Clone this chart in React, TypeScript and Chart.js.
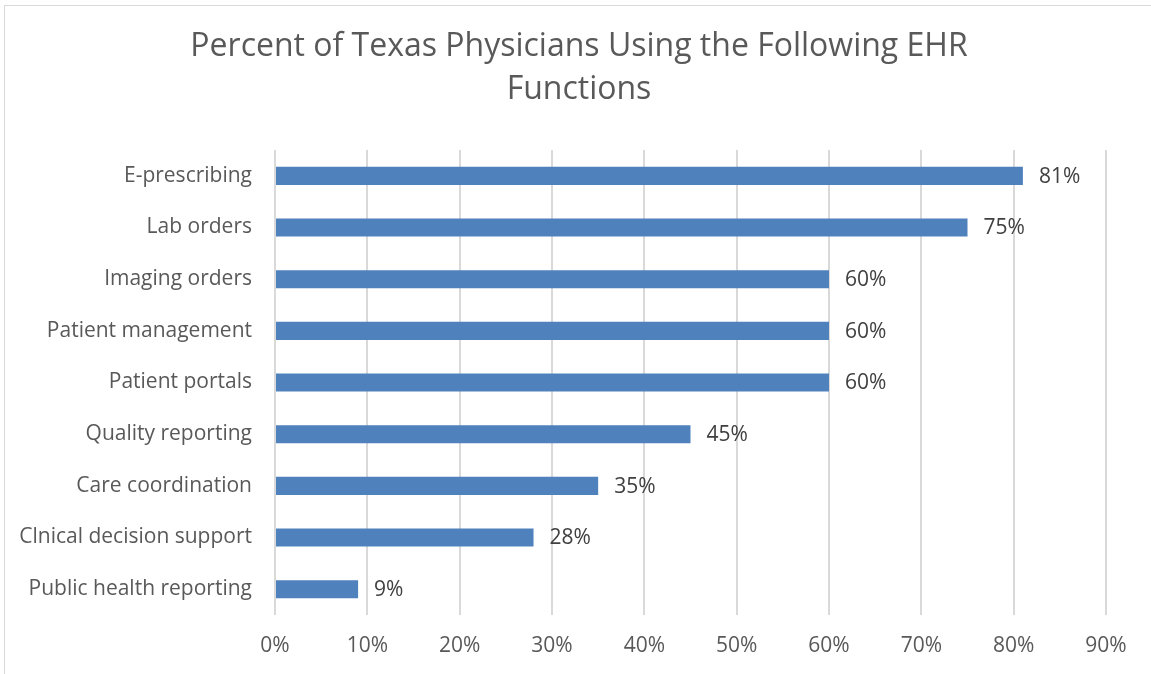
import { useEffect, useRef } from "react";
import { Chart, registerables } from "chart.js";

Chart.register(...registerables);

// EHR functions, top to bottom as listed on the chart
const functions = [
  "E-prescribing",
  "Lab orders",
  "Imaging orders",
  "Patient management",
  "Patient portals",
  "Quality reporting",
  "Care coordination",
  "Clnical decision support",
  "Public health reporting",
];

// Percent of physicians using each function
const percentUsing = [81, 75, 60, 60, 60, 45, 35, 28, 9];

// Horizontal axis range and tick step (percent)
const axisMin = 0;
const axisMax = 90;
const axisStep = 10;

const titleLines = ["Percent of Texas Physicians Using the Following EHR", "Functions"];

const FONT = "'Open Sans', 'DejaVu Sans', sans-serif";
const BAR_BLUE = "#4F81BD";
const GRID_GREY = "#d9d9d9";
const AXIS_TEXT = "#595959";
const LABEL_TEXT = "#404040";

// Two-line title centred over the whole chart frame
const frameTitle = {
  id: "frameTitle",
  afterDraw(chart: any) {
    const { ctx } = chart;
    ctx.save();
    ctx.font = `32px ${FONT}`;
    ctx.fillStyle = AXIS_TEXT;
    ctx.textAlign = "center";
    ctx.textBaseline = "alphabetic";
    titleLines.forEach((line, i) => {
      ctx.fillText(line, 579, 56 + i * 43);
    });
    ctx.restore();
  },
};

// Writes each bar's percentage just past its end
const valueLabels = {
  id: "valueLabels",
  afterDatasetsDraw(chart: any) {
    const { ctx } = chart;
    const meta = chart.getDatasetMeta(0);
    const data = chart.data.datasets[0].data as number[];
    ctx.save();
    ctx.font = `21px ${FONT}`;
    ctx.fillStyle = LABEL_TEXT;
    ctx.textAlign = "left";
    ctx.textBaseline = "middle";
    meta.data.forEach((bar: any, i: number) => {
      ctx.fillText(`${Math.round(data[i])}%`, bar.x + 16, bar.y + 1);
    });
    ctx.restore();
  },
};

function EhrChart() {
  const canvasRef = useRef<HTMLCanvasElement | null>(null);

  useEffect(() => {
    const canvas = canvasRef.current;
    if (!canvas) return;
    const chart = new Chart(canvas, {
      type: "bar",
      data: {
        labels: functions,
        datasets: [
          {
            data: percentUsing,
            backgroundColor: BAR_BLUE,
            borderWidth: 0,
            barPercentage: 0.35,
            categoryPercentage: 1,
          },
        ],
      },
      options: {
        indexAxis: "y",
        animation: false,
        responsive: false,
        devicePixelRatio: 1,
        layout: { padding: { left: 0, right: 45, top: 150, bottom: 0 } },
        plugins: {
          legend: { display: false },
          tooltip: { enabled: false },
          title: { display: false },
        },
        scales: {
          x: {
            min: axisMin,
            max: axisMax,
            afterFit(scale: any) {
              scale.height = 59;
            },
            ticks: {
              stepSize: axisStep,
              color: AXIS_TEXT,
              font: { family: FONT, size: 21 },
              padding: 18,
              callback: (v: any) => `${v}%`,
            },
            grid: { color: GRID_GREY, lineWidth: 2, drawTicks: false },
            border: { display: false },
          },
          y: {
            afterFit(scale: any) {
              scale.width = 275;
            },
            ticks: {
              color: AXIS_TEXT,
              font: { family: FONT, size: 21 },
              padding: 23,
            },
            grid: { display: false, drawTicks: false },
            border: { display: false },
          },
        },
      },
      plugins: [valueLabels, frameTitle],
    });
    return () => chart.destroy();
  }, []);

  return <canvas ref={canvasRef} width={1151} height={674} style={{ position: "absolute", left: 0, top: 0 }} />;
}

export default function App() {
  return (
    <div
      style={{
        position: "fixed",
        left: 0,
        top: 0,
        width: 1151,
        height: 674,
        overflow: "hidden",
        background: "#ffffff",
      }}
    >
      <div
        style={{
          position: "absolute",
          left: 4,
          top: 5,
          width: 1200,
          height: 720,
          border: `1px solid ${GRID_GREY}`,
          boxSizing: "border-box",
        }}
      />
      <EhrChart />
    </div>
  );
}
